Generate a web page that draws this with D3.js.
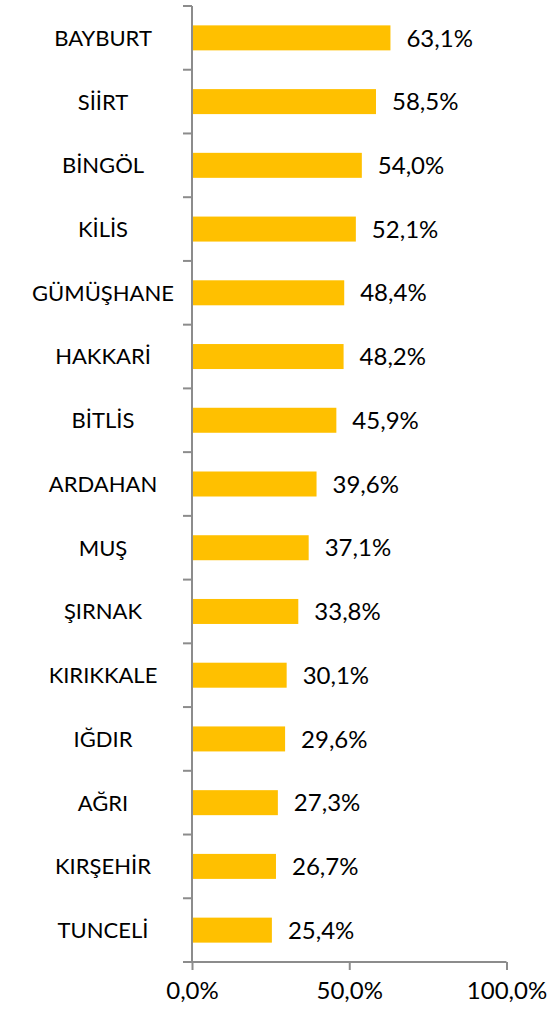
<!DOCTYPE html>
<html>
<head>
<meta charset="utf-8">
<script src="https://cdn.jsdelivr.net/npm/d3@7"></script>
<style>
  html, body { margin: 0; padding: 0; background: #fff; }
  svg { display: block; }
  text { font-family: Lato, "Open Sans", sans-serif; fill: #000; }
</style>
</head>
<body>
<svg id="chart" width="555" height="1011"></svg>
<script>
const categories = ["BAYBURT", "SİİRT", "BİNGÖL", "KİLİS", "GÜMÜŞHANE", "HAKKARİ", "BİTLİS", "ARDAHAN", "MUŞ", "ŞIRNAK", "KIRIKKALE", "IĞDIR", "AĞRI", "KIRŞEHİR", "TUNCELİ"];
const values = [63.1, 58.5, 54.0, 52.1, 48.4, 48.2, 45.9, 39.6, 37.1, 33.8, 30.1, 29.6, 27.3, 26.7, 25.4];
const xTicks = [0, 50, 100];

const fmt = v => v.toFixed(1).replace(".", ",") + "%";

const svg = d3.select("#chart");
const mLeft = 192, mRight = 506.5, mTop = 6, mBottom = 962;
const axisColor = "#8c8c8c";

const x = d3.scaleLinear().domain([0, 100]).range([mLeft, mRight]);
const pad = 1 - 25 / ((mBottom - mTop) / categories.length);
const y = d3.scaleBand().domain(categories).range([mTop, mBottom])
  .paddingInner(pad).paddingOuter(pad / 2);

// bars
svg.append("g").selectAll("rect").data(categories).join("rect")
  .attr("x", x(0))
  .attr("y", d => y(d))
  .attr("width", (d, i) => x(values[i]) - x(0))
  .attr("height", y.bandwidth())
  .attr("fill", "#FFC000");

// value labels
svg.append("g").selectAll("text").data(categories).join("text")
  .attr("x", (d, i) => x(values[i]) + 16)
  .attr("y", d => y(d) + y.bandwidth() / 2)
  .attr("dy", "0.36em")
  .attr("font-size", 24)
  .text((d, i) => fmt(values[i]));

// category labels
svg.append("g").selectAll("text").data(categories).join("text")
  .attr("x", 103)
  .attr("y", d => y(d) + y.bandwidth() / 2)
  .attr("dy", "0.36em")
  .attr("text-anchor", "middle")
  .attr("font-size", 22)
  .text(d => d);

// y axis line and band-boundary ticks
const step = y.step();
const bounds = categories.map(d => y(d) - y.paddingInner() * step / 2).concat([mBottom]);
const ya = svg.append("g").attr("stroke", axisColor).attr("stroke-width", 2);
ya.append("line").attr("x1", x(0)).attr("x2", x(0)).attr("y1", mTop).attr("y2", mBottom);
ya.selectAll("line.t").data(bounds).join("line").attr("class", "t")
  .attr("x1", x(0) - 9).attr("x2", x(0)).attr("y1", d => d).attr("y2", d => d);

// x axis
const xa = svg.append("g").attr("transform", `translate(0,${mBottom})`)
  .call(d3.axisBottom(x).tickValues(xTicks).tickFormat(v => fmt(v)).tickSize(8).tickPadding(12));
xa.select(".domain").attr("stroke", axisColor).attr("stroke-width", 2)
  .attr("d", `M${x(0) - 9},0H${mRight}`);
xa.selectAll(".tick line").attr("stroke", axisColor).attr("stroke-width", 2);
xa.selectAll(".tick text").attr("font-size", 24).attr("font-family", "Lato, sans-serif").attr("fill", "#000");
</script>
</body>
</html>
